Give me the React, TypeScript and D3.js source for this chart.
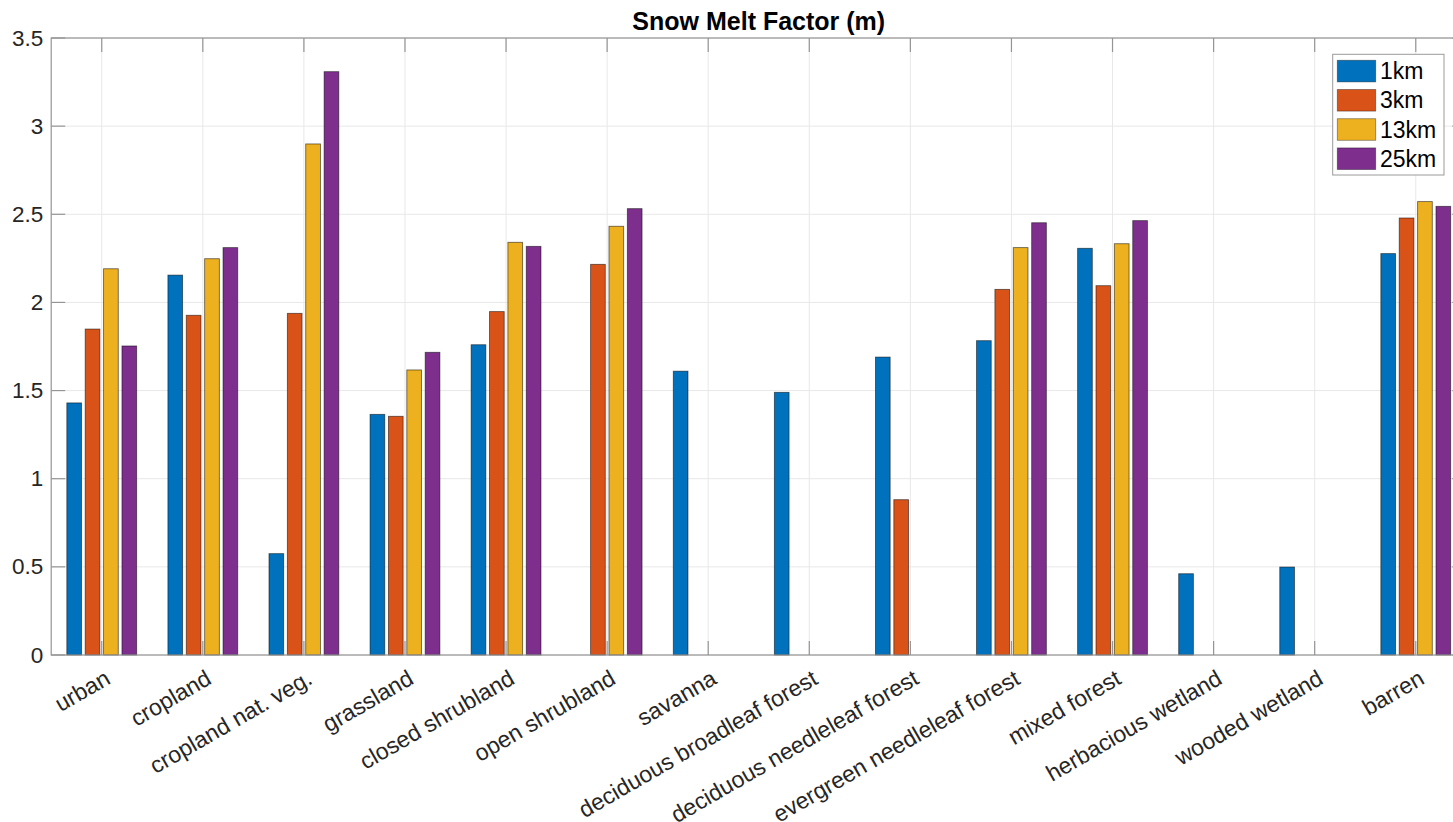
import React from "react";
import * as d3 from "d3";

// Land-cover classes along the x axis
const categories: string[] = [
  "urban",
  "cropland",
  "cropland nat. veg.",
  "grassland",
  "closed shrubland",
  "open shrubland",
  "savanna",
  "deciduous broadleaf forest",
  "deciduous needleleaf forest",
  "evergreen needleleaf forest",
  "mixed forest",
  "herbacious wetland",
  "wooded wetland",
  "barren",
];

// Snow melt factor (m) per resolution; null = no value for that class
const km1: (number | null)[] = [1.43, 2.155, 0.575, 1.365, 1.76, null, 1.61, 1.49, 1.69, 1.783, 2.307, 0.461, 0.499, 2.277];
const km3: (number | null)[] = [1.849, 1.927, 1.938, 1.354, 1.948, 2.216, null, null, 0.881, 2.074, 2.095, null, null, 2.479];
const km13: (number | null)[] = [2.191, 2.248, 2.899, 1.617, 2.341, 2.432, null, null, null, 2.311, 2.333, null, null, 2.572];
const km25: (number | null)[] = [1.753, 2.311, 3.309, 1.717, 2.318, 2.532, null, null, null, 2.452, 2.464, null, null, 2.545];

const seriesNames: string[] = ["1km", "3km", "13km", "25km"];
const seriesColors: string[] = ["#0072BD", "#D95319", "#EDB120", "#7E2F8E"];
const yTicks: number[] = [0, 0.5, 1, 1.5, 2, 2.5, 3, 3.5];
const titleText = "Snow Melt Factor (m)";

const W = 1453;
const H = 822;
const FONT = "'Liberation Sans', Arial, Helvetica, sans-serif";

export default function App() {
  const series = [km1, km3, km13, km25];

  const left = 51.2;
  const right = 1466.3;
  const top = 38;
  const bottom = 655;

  const x = d3.scaleLinear().domain([0.5, categories.length + 0.5]).range([left, right]);
  const y = d3.scaleLinear().domain([0, 3.5]).range([bottom, top]);

  // grouped-bar geometry (fractions of one category slot)
  const nSeries = series.length;
  const groupWidth = Math.min(0.8, nSeries / (nSeries + 1.5));
  const slot = groupWidth / nSeries;
  const barW = slot * 0.8;
  const offset = (j: number) => -groupWidth / 2 + slot * (j + 0.5);

  const tickLen = 14;
  const axisColor = "#959595";
  const gridColor = "#e8e8e8";
  const catIdx = d3.range(1, categories.length + 1);

  return (
    <svg
      width={W}
      height={H}
      viewBox={`0 0 ${W} ${H}`}
      style={{ position: "absolute", left: 0, top: 0, display: "block", background: "#fff" }}
      fontFamily={FONT}
    >
      <rect x={0} y={0} width={W} height={H} fill="#fff" />

      {/* grid */}
      <g>
        {yTicks.map((t) => (
          <line key={"gy" + t} x1={left} x2={right} y1={y(t)} y2={y(t)} stroke={gridColor} strokeWidth={1} />
        ))}
        {catIdx.map((i) => (
          <line key={"gx" + i} x1={x(i)} x2={x(i)} y1={top} y2={bottom} stroke={gridColor} strokeWidth={1} />
        ))}
      </g>

      {/* bars */}
      <g>
        {series.map((vals, j) =>
          vals.map((v, i) =>
            v == null ? null : (
              <rect
                key={`b${j}-${i}`}
                x={x(i + 1 + offset(j) - barW / 2)}
                y={y(v)}
                width={x(barW) - x(0)}
                height={y(0) - y(v)}
                fill={seriesColors[j]}
                stroke="rgba(0,0,0,0.55)"
                strokeWidth={0.9}
              />
            )
          )
        )}
      </g>

      {/* axes box and ticks */}
      <g stroke={axisColor} strokeWidth={1.2} fill="none">
        <rect x={left} y={top} width={right - left} height={bottom - top} />
        {catIdx.map((i) => (
          <g key={"tx" + i}>
            <line x1={x(i)} x2={x(i)} y1={bottom} y2={bottom - tickLen} />
            <line x1={x(i)} x2={x(i)} y1={top} y2={top + tickLen} />
          </g>
        ))}
        {yTicks.map((t) => (
          <g key={"ty" + t}>
            <line x1={left} x2={left + tickLen} y1={y(t)} y2={y(t)} />
            <line x1={right} x2={right - tickLen} y1={y(t)} y2={y(t)} />
          </g>
        ))}
      </g>

      {/* y tick labels */}
      <g fontSize={22.5} fill="#262626" textAnchor="end">
        {yTicks.map((t) => (
          <text key={"yl" + t} x={left - 8} y={y(t)} dominantBaseline="central">
            {d3.format("~g")(t)}
          </text>
        ))}
      </g>

      {/* rotated category labels */}
      <g fontSize={23} fill="#262626" textAnchor="end">
        {categories.map((c, i) => (
          <text
            key={"xl" + i}
            transform={`translate(${x(i + 1) + 6},${bottom + 21}) rotate(-30)`}
            dominantBaseline="central"
          >
            {c}
          </text>
        ))}
      </g>

      {/* title */}
      <text
        x={(left + right) / 2}
        y={29.5}
        textAnchor="middle"
        fontSize={25}
        fontWeight="bold"
        fill="#000"
      >
        {titleText}
      </text>

      {/* legend */}
      <g>
        <rect x={1332.7} y={54.3} width={111.3} height={120.7} fill="#fff" stroke="#9a9a9a" strokeWidth={1} />
        {seriesNames.map((n, j) => (
          <g key={"lg" + j}>
            <rect
              x={1337.3}
              y={60.3 + j * 29.2}
              width={38.4}
              height={21.6}
              fill={seriesColors[j]}
              stroke="rgba(0,0,0,0.4)"
              strokeWidth={0.9}
            />
            <text x={1380} y={60.3 + j * 29.2 + 10.8} dominantBaseline="central" fontSize={23} fill="#000">
              {n}
            </text>
          </g>
        ))}
      </g>
    </svg>
  );
}
